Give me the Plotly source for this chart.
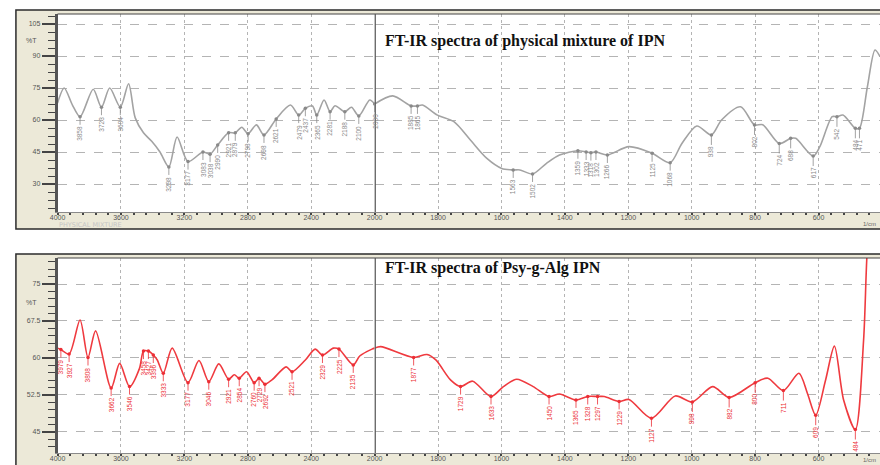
import plotly.graph_objects as go

# ---------------- data ----------------
# Physical mixture of IPN: wavenumber (1/cm) and transmittance (%T)
pm_wn = [4000, 3958, 3906, 3858, 3775, 3723, 3671, 3604, 3552, 3510, 3458, 3406,
         3354, 3298, 3246, 3177, 3083, 3038, 2990, 2921, 2879, 2838, 2798, 2746,
         2698, 2621, 2531, 2479, 2437, 2392, 2365, 2319, 2281, 2250, 2188, 2146,
         2100, 2031, 2000, 1943, 1885, 1865, 1849, 1802, 1750, 1698, 1646, 1599,
         1563, 1542, 1502, 1458, 1417, 1359, 1333, 1318, 1302, 1266, 1198, 1125,
         1068, 1031, 984, 938, 906, 846, 802, 776, 724, 688, 672, 617, 596, 557,
         542, 523, 484, 471, 446, 422, 406]
pm_t = [68.0, 75.0, 67.0, 61.5, 74.4, 66.0, 75.0, 66.0, 77.0, 61.0, 54.0, 50.0,
        45.0, 38.0, 52.0, 40.5, 45.0, 44.0, 48.3, 54.0, 54.0, 56.6, 53.6, 57.7,
        53.0, 60.5, 67.0, 62.3, 65.5, 66.6, 62.3, 69.4, 63.9, 66.7, 63.9, 66.0,
        61.9, 69.4, 67.5, 71.3, 66.6, 66.6, 67.0, 62.3, 59.2, 50.6, 42.0, 37.3,
        36.6, 36.6, 34.7, 39.7, 43.6, 45.6, 45.0, 44.7, 45.0, 43.6, 47.5, 44.4,
        40.0, 49.0, 57.2, 53.0, 60.0, 66.2, 57.7, 57.8, 49.0, 51.4, 51.4, 43.1,
        47.5, 61.6, 61.5, 62.3, 56.1, 56.1, 75.6, 92.8, 89.7]
pm_peaks = [3858, 3723, 3604, 3298, 3177, 3083, 3038, 2990, 2921, 2879, 2798,
            2698, 2621, 2479, 2437, 2365, 2281, 2188, 2100, 2000, 1885, 1865,
            1563, 1502, 1359, 1333, 1318, 1302, 1266, 1125, 1068, 938, 802, 724,
            688, 617, 542, 484, 471]

# Psy-g-Alg IPN: wavenumber (1/cm) and transmittance (%T)
ipn_wn = [4000, 3979, 3927, 3858, 3808, 3760, 3662, 3608, 3546, 3483, 3458, 3427,
          3396, 3371, 3333, 3277, 3177, 3108, 3046, 2983, 2921, 2885, 2854, 2808,
          2760, 2729, 2692, 2646, 2558, 2521, 2437, 2375, 2329, 2260, 2225, 2135,
          2094, 2017, 2000, 1981, 1877, 1835, 1807, 1760, 1729, 1691, 1633, 1594,
          1552, 1500, 1450, 1417, 1365, 1328, 1297, 1276, 1229, 1198, 1127, 1052,
          998, 934, 882, 800, 760, 711, 662, 635, 609, 578, 550, 521, 484, 458,
          448, 430]
ipn_t = [62.0, 61.7, 60.8, 67.7, 60.1, 65.5, 53.9, 58.9, 54.2, 57.9, 61.4, 61.4,
         60.6, 59.6, 56.9, 62.0, 55.0, 59.5, 55.2, 58.8, 55.7, 56.6, 55.9, 57.2,
         55.0, 55.9, 54.7, 55.6, 58.2, 57.2, 59.6, 61.8, 60.6, 62.0, 61.8, 58.6,
         60.4, 61.8, 62.0, 62.3, 60.1, 60.7, 59.6, 55.5, 54.2, 55.3, 52.2, 54.2,
         55.7, 54.2, 52.2, 52.7, 51.5, 52.2, 52.2, 52.2, 51.2, 51.6, 47.8, 52.3,
         51.1, 54.2, 52.0, 55.0, 55.9, 53.4, 56.9, 52.8, 48.4, 55.5, 62.4, 51.5,
         45.5, 63.6, 80.0, 100.0]
ipn_peaks = [3979, 3927, 3808, 3662, 3546, 3458, 3427, 3396, 3333, 3177, 3046,
             2921, 2854, 2760, 2729, 2692, 2521, 2329, 2225, 2135, 1877, 1729,
             1633, 1450, 1365, 1328, 1297, 1229, 1127, 998, 882, 800, 711, 609,
             484]

x_ticks_hi = [4000, 3600, 3200, 2800, 2400]
x_ticks_lo = [2000, 1800, 1600, 1400, 1200, 1000, 800, 600, 400]
pm_yticks = [30, 45, 60, 75, 90, 105]
ipn_yticks = [45, 52.5, 60, 67.5, 75]

titles = ["FT-IR spectra of physical mixture of IPN", "FT-IR spectra of Psy-g-Alg IPN"]

# ---------------- geometry helpers ----------------
W, H = 880, 465


def fx(p):
    return p / W


def fy(p):
    return 1 - p / H


BEIGE = "#ECE9D8"
GRID = "#b4b4b4"
AXIS = "#555555"
TICKFONT = dict(family="Liberation Sans", size=7, color="#555555")

panels = [
    dict(wn=pm_wn, t=pm_t, peaks=pm_peaks, color="#a3a3a3", lab="#8a8a8a",
         xa=("x", "x2"), ya="y", top=14, bot=212, yr=[16.875, 109.69],
         yt=pm_yticks, ydt=3.75, title=titles[0], title_y=41,
         frame=(10, 229), unit_y=40, note="PHYSICAL MIXTURE", note_y=225,
         unit_x_y=224),
    dict(wn=ipn_wn, t=ipn_t, peaks=ipn_peaks, color="#ef3a3f", lab="#ec2f36",
         xa=("x3", "x4"), ya="y2", top=258, bot=453, yr=[40.74, 80.27],
         yt=ipn_yticks, ydt=1.5, title=titles[1], title_y=268,
         frame=(254, 480), unit_y=302, note=None, note_y=None, unit_x_y=460),
]

fig = go.Figure()
shapes = []
annotations = []
layout = {}

X_SPLIT = 370  # pixel where the 2000 1/cm scale break sits
for i, pn in enumerate(panels):
    xl, xr = pn["xa"]
    ya = pn["ya"]
    hi = [(w, t) for w, t in zip(pn["wn"], pn["t"]) if w >= 2000]
    lo = [(w, t) for w, t in zip(pn["wn"], pn["t"]) if w <= 2000]
    for part, xa in ((hi, xl), (lo, xr)):
        fig.add_trace(go.Scatter(
            x=[p[0] for p in part], y=[p[1] for p in part],
            mode="lines", line=dict(color=pn["color"], width=1.6, shape="spline",
                                    smoothing=0.8),
            xaxis=xa, yaxis=ya, hoverinfo="skip", showlegend=False))

    # peak markers and rotated wavenumber labels
    lookup = dict(zip(pn["wn"], pn["t"]))
    pk_hi = [w for w in pn["peaks"] if w >= 2000]
    pk_lo = [w for w in pn["peaks"] if w < 2000]
    for pk, xa in ((pk_hi, xl), (pk_lo, xr)):
        fig.add_trace(go.Scatter(
            x=pk, y=[lookup[w] for w in pk], mode="markers",
            marker=dict(size=3.5, color=pn["lab"]),
            xaxis=xa, yaxis=ya, hoverinfo="skip", showlegend=False))
        for w in pk:
            annotations.append(dict(
                x=w, y=lookup[w], xref=xa, yref=ya, text=str(w),
                textangle=-90, showarrow=True, arrowhead=0, arrowwidth=0.8,
                arrowcolor=pn["lab"], ax=0, ay=17,
                font=dict(family="Liberation Sans", size=6.5, color=pn["lab"])))

    ydom = [fy(pn["bot"]), fy(pn["top"])]
    common_x = dict(showline=True, linecolor="#8a8a8a", linewidth=1,
                    ticks="outside", ticklen=2, tickwidth=2, tickcolor="#444444",
                    tickfont=TICKFONT, ticklabelstandoff=-3, showgrid=True,
                    gridcolor=GRID, griddash="dot", gridwidth=1, zeroline=False,
                    anchor=ya, fixedrange=True)
    layout["xaxis" if xl == "x" else "xaxis" + xl[1:]] = dict(
        common_x, domain=[fx(50), fx(X_SPLIT)], range=[4000, 2000],
        tickvals=x_ticks_hi, ticktext=[str(v) for v in x_ticks_hi],
        minor=dict(dtick=80, tick0=4000, ticks="outside", ticklen=2,
                   tickwidth=2, tickcolor="#444444", showgrid=False))
    layout["xaxis" + xr[1:]] = dict(
        common_x, domain=[fx(X_SPLIT), 1.0],
        range=[2000, 2000 - 3.125 * (W - X_SPLIT)],
        tickvals=x_ticks_lo, ticktext=[str(v) for v in x_ticks_lo],
        minor=dict(dtick=40, tick0=2000, ticks="outside", ticklen=2,
                   tickwidth=2, tickcolor="#444444", showgrid=False))
    layout["yaxis" if ya == "y" else "yaxis" + ya[1:]] = dict(
        domain=ydom, range=pn["yr"], anchor=xl, showline=True,
        linecolor=AXIS, linewidth=2.5, ticks="outside", ticklen=13,
        tickwidth=1.5, tickcolor="#444444", tickvals=pn["yt"],
        ticktext=[("%g" % v) for v in pn["yt"]], tickfont=TICKFONT,
        showgrid=True, gridcolor=GRID, griddash="dash", gridwidth=1,
        zeroline=False, fixedrange=True,
        minor=dict(dtick=pn["ydt"], tick0=0, ticks="outside", ticklen=7,
                   tickwidth=1.2, tickcolor="#444444", showgrid=False))

    # beige instrument panel with a white plotting window
    f0, f1 = pn["frame"]
    shapes.append(dict(type="rect", xref="paper", yref="paper", layer="below",
                       x0=fx(8), x1=1.01, y0=fy(f1), y1=fy(f0),
                       fillcolor=BEIGE, line=dict(color="#2b2b2b", width=1.5)))
    shapes.append(dict(type="rect", xref="paper", yref="paper", layer="below",
                       x0=fx(50), x1=1.01, y0=fy(pn["bot"]), y1=fy(pn["top"]),
                       fillcolor="white", line=dict(width=0)))
    shapes.append(dict(type="line", xref="paper", yref="paper",
                       x0=fx(50), x1=1.0, y0=fy(pn["top"]), y1=fy(pn["top"]),
                       line=dict(color="#444444", width=1.2)))
    # scale break at 2000 1/cm
    shapes.append(dict(type="line", xref=xr, yref=ya + " domain",
                       x0=2000, x1=2000, y0=0, y1=1,
                       line=dict(color="#5a5a5a", width=2.5)))

    annotations.append(dict(
        x=fx(378), y=fy(pn["title_y"]), xref="paper", yref="paper",
        xanchor="left", yanchor="middle", text="<b>%s</b>" % pn["title"],
        showarrow=False,
        font=dict(family="Liberation Serif", size=16, color="#111111")))
    annotations.append(dict(
        x=fx(24), y=fy(pn["unit_y"]), xref="paper", yref="paper",
        xanchor="center", yanchor="middle", text="%T", showarrow=False,
        font=dict(family="Liberation Sans", size=7, color="#555555")))
    annotations.append(dict(
        x=fx(878), y=fy(pn["unit_x_y"]), xref="paper", yref="paper",
        xanchor="right", yanchor="middle", text="1/cm", showarrow=False,
        font=dict(family="Liberation Sans", size=6, color="#666666")))
    if pn["note"]:
        annotations.append(dict(
            x=fx(49), y=fy(pn["note_y"]), xref="paper", yref="paper",
            xanchor="left", yanchor="middle", text=pn["note"], showarrow=False,
            font=dict(family="DejaVu Sans", size=6.5, color="#c4c4c4")))

fig.update_layout(
    width=W, height=H, margin=dict(l=0, r=0, t=0, b=0),
    paper_bgcolor="white", plot_bgcolor="white",
    shapes=shapes, annotations=annotations, showlegend=False,
    **layout)

fig.write_html("out.html", config={"displayModeBar": False})
